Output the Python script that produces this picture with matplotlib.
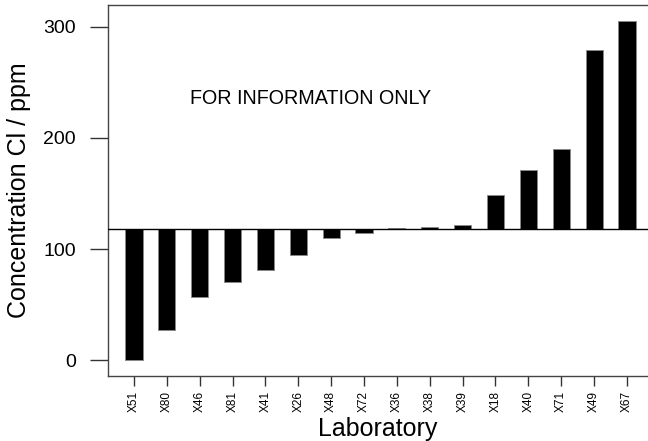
import matplotlib
matplotlib.use("Agg")
import matplotlib.pyplot as plt
import numpy as np

plt.rcParams['font.family'] = ['Liberation Sans', 'DejaVu Sans']

labs = ["X51", "X80", "X46", "X81", "X41", "X26", "X48", "X72",
        "X36", "X38", "X39", "X18", "X40", "X71", "X49", "X67"]
values = [0, 27, 57, 70, 81, 95, 110, 114, 119, 120, 122, 149, 171, 190, 279, 305]
ref_value = 118
yticks = [0, 100, 200, 300]

fig = plt.figure(figsize=(6.48, 4.41), dpi=100)
ax = fig.add_axes([108/648, 65/441, 1 - 108/648, (376-5)/441])

x = np.arange(len(labs))
heights = [v - ref_value for v in values]
ax.bar(x, heights, bottom=ref_value, width=0.52, color='black',
       edgecolor='#888888', linewidth=0.7, zorder=2)
ax.axhline(ref_value, color='black', lw=1.0, zorder=3)

ax.set_xlim(-0.79, 15.64)
ax.set_ylim(-14.4, 319.8)

ax.set_yticks(yticks)
ax.set_yticklabels([str(t) for t in yticks], fontsize=14)
ax.set_xticks(x)
ax.set_xticklabels(labs, rotation=90, fontsize=8.5)

ax.tick_params(axis='y', direction='out', length=13, width=1, color='#333333', pad=10)
ax.tick_params(axis='x', direction='out', length=7, width=1, color='#333333', pad=4)

for s in ['left', 'top', 'bottom']:
    ax.spines[s].set_color('#444444')
    ax.spines[s].set_linewidth(1.0)
ax.spines['right'].set_visible(False)

ax.set_ylabel("Concentration Cl / ppm", fontsize=18, labelpad=9)
ax.set_xlabel("Laboratory", fontsize=18, labelpad=3)

ax.text(1.7, 236, "FOR INFORMATION ONLY", fontsize=14.2, ha='left', va='center')

fig.savefig("out.png", dpi=100)
